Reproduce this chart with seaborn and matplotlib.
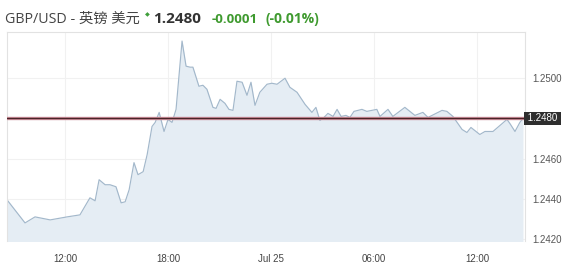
import matplotlib
matplotlib.use("Agg")
import matplotlib.pyplot as plt
import seaborn as sns
import pandas as pd
import numpy as np

times = ["2019-07-24 08:37", "2019-07-24 09:40", "2019-07-24 10:15", "2019-07-24 11:08", "2019-07-24 12:07",
         "2019-07-24 12:52", "2019-07-24 13:27", "2019-07-24 13:45", "2019-07-24 13:59", "2019-07-24 14:20",
         "2019-07-24 14:37", "2019-07-24 14:58", "2019-07-24 15:16", "2019-07-24 15:30", "2019-07-24 15:44",
         "2019-07-24 16:01", "2019-07-24 16:15", "2019-07-24 16:33", "2019-07-24 16:47", "2019-07-24 17:04",
         "2019-07-24 17:15", "2019-07-24 17:29", "2019-07-24 17:46", "2019-07-24 18:00", "2019-07-24 18:14",
         "2019-07-24 18:28", "2019-07-24 18:49", "2019-07-24 19:03", "2019-07-24 19:17", "2019-07-24 19:27",
         "2019-07-24 19:48", "2019-07-24 20:02", "2019-07-24 20:16", "2019-07-24 20:37", "2019-07-24 20:48",
         "2019-07-24 21:02", "2019-07-24 21:19", "2019-07-24 21:33", "2019-07-24 21:47", "2019-07-24 22:01",
         "2019-07-24 22:19", "2019-07-24 22:36", "2019-07-24 22:50", "2019-07-24 23:04", "2019-07-24 23:21",
         "2019-07-24 23:46", "2019-07-25 00:03", "2019-07-25 00:21", "2019-07-25 00:49", "2019-07-25 01:06",
         "2019-07-25 01:31", "2019-07-25 01:59", "2019-07-25 02:23", "2019-07-25 02:37", "2019-07-25 02:51",
         "2019-07-25 03:02", "2019-07-25 03:19", "2019-07-25 03:37", "2019-07-25 03:51", "2019-07-25 04:05",
         "2019-07-25 04:22", "2019-07-25 04:36", "2019-07-25 04:50", "2019-07-25 05:18", "2019-07-25 05:35",
         "2019-07-25 06:10", "2019-07-25 06:21", "2019-07-25 06:49", "2019-07-25 07:06", "2019-07-25 07:48",
         "2019-07-25 08:23", "2019-07-25 08:51", "2019-07-25 09:09", "2019-07-25 09:58", "2019-07-25 10:15",
         "2019-07-25 10:36", "2019-07-25 11:08", "2019-07-25 11:25", "2019-07-25 11:39", "2019-07-25 12:10",
         "2019-07-25 12:28", "2019-07-25 12:56", "2019-07-25 13:45", "2019-07-25 13:55", "2019-07-25 14:13",
         "2019-07-25 14:30", "2019-07-25 14:41"]
prices = [1.24395, 1.24280, 1.24310, 1.24295, 1.24310,
          1.24320, 1.24405, 1.24390, 1.24495, 1.24470,
          1.24470, 1.24460, 1.24380, 1.24385, 1.24445,
          1.24580, 1.24520, 1.24535, 1.24620, 1.24760,
          1.24780, 1.24830, 1.24735, 1.24795, 1.24780,
          1.24845, 1.25185, 1.25060, 1.25055, 1.25055,
          1.24960, 1.24965, 1.24945, 1.24855, 1.24850,
          1.24895, 1.24875, 1.24845, 1.24840, 1.24985,
          1.24980, 1.24915, 1.24980, 1.24865, 1.24930,
          1.24970, 1.24975, 1.24970, 1.25000, 1.24955,
          1.24930, 1.24870, 1.24830, 1.24855, 1.24790,
          1.24800, 1.24825, 1.24810, 1.24845, 1.24810,
          1.24815, 1.24805, 1.24835, 1.24845, 1.24835,
          1.24845, 1.24810, 1.24845, 1.24810, 1.24855,
          1.24815, 1.24830, 1.24805, 1.24840, 1.24835,
          1.24810, 1.24745, 1.24730, 1.24755, 1.24720,
          1.24735, 1.24735, 1.24795, 1.24775, 1.24735,
          1.24780, 1.24800]

last_price = 1.2480
y_ticks = [1.2420, 1.2440, 1.2460, 1.2480, 1.2500]
x_tick_times = ["2019-07-24 12:00", "2019-07-24 18:00", "2019-07-25 00:00", "2019-07-25 06:00", "2019-07-25 12:00"]
x_tick_labels = ["12:00", "18:00", "Jul 25", "06:00", "12:00"]
title_pair = "GBP/USD - 英镑 美元"
title_price = "1.2480"
title_change = "-0.0001"
title_pct = "(-0.01%)"

df = pd.DataFrame({"time": pd.to_datetime(times), "price": prices})

sns.set_theme(style="white")
plt.rcParams["font.family"] = ["Liberation Sans", "Noto Sans CJK SC", "DejaVu Sans"]

W, H = 566, 264
fig = plt.figure(figsize=(W / 100, H / 100), dpi=100)
ax = fig.add_axes([7 / W, 1 - 241 / H, (525 - 7) / W, (241 - 32) / H])

ax.fill_between(df["time"], df["price"], 1.2400, color="#e5edf4", lw=0, zorder=1)
sns.lineplot(data=df, x="time", y="price", ax=ax, color="#a3b8cb", lw=0.85, zorder=2)

ax.axhline(last_price, color="#c98a96", lw=2.4, zorder=3)
ax.axhline(last_price, color="#4a2428", lw=0.9, zorder=4)

ax.set_ylim(1.2419, 1.2523)
ax.set_xlim(pd.Timestamp("2019-07-24 08:37"), pd.Timestamp("2019-07-25 14:48"))

ax.yaxis.tick_right()
ax.set_yticks(y_ticks)
# the 1.2480 level is labelled by the dark price box instead of a plain tick label
ax.set_yticklabels(["" if abs(v - last_price) < 1e-9 else f"{v:.4f}" for v in y_ticks],
                   fontsize=7, color="#555555")
ax.set_xticks(pd.to_datetime(x_tick_times))
ax.set_xticklabels(x_tick_labels, fontsize=7, color="#444444")
ax.tick_params(axis="x", length=0, pad=9)
ax.tick_params(axis="y", length=0, pad=5)
ax.set_xlabel("")
ax.set_ylabel("")
ax.grid(True, color="#f1f1f1", lw=0.8, zorder=0)
ax.set_axisbelow(True)

for side in ["top", "left", "right"]:
    ax.spines[side].set_color("#e2e2e2")
    ax.spines[side].set_linewidth(0.8)
ax.spines["bottom"].set_visible(False)

ax.text(1.0, last_price, " 1.2480 ", transform=ax.get_yaxis_transform(), fontsize=7, color="white",
        va="center", ha="left", zorder=6,
        bbox=dict(boxstyle="square,pad=0.15", facecolor="#2e2e2e", edgecolor="none"), clip_on=False)

def fx(px):
    return px / W

def fy(py):
    return 1 - py / H

fig.text(fx(5), fy(23), title_pair, fontsize=10.3, color="#444444", va="baseline",
         family=["Open Sans", "Noto Sans CJK SC", "DejaVu Sans"])
fig.text(fx(145), fy(16), "◆", fontsize=4.5, color="#3f9f3a", va="baseline", family=["DejaVu Sans"])
fig.text(fx(153), fy(23), title_price, fontsize=11, color="#333333", va="baseline", fontweight="bold",
         family=["Open Sans", "DejaVu Sans"])
fig.text(fx(212), fy(23), title_change, fontsize=9.5, color="#3f9a2f", va="baseline", fontweight="bold",
         family=["Open Sans", "DejaVu Sans"])
fig.text(fx(266), fy(23), title_pct, fontsize=10, color="#3f9a2f", va="baseline", fontweight="bold",
         family=["Open Sans", "DejaVu Sans"])

fig.savefig("out.png", dpi=100)
